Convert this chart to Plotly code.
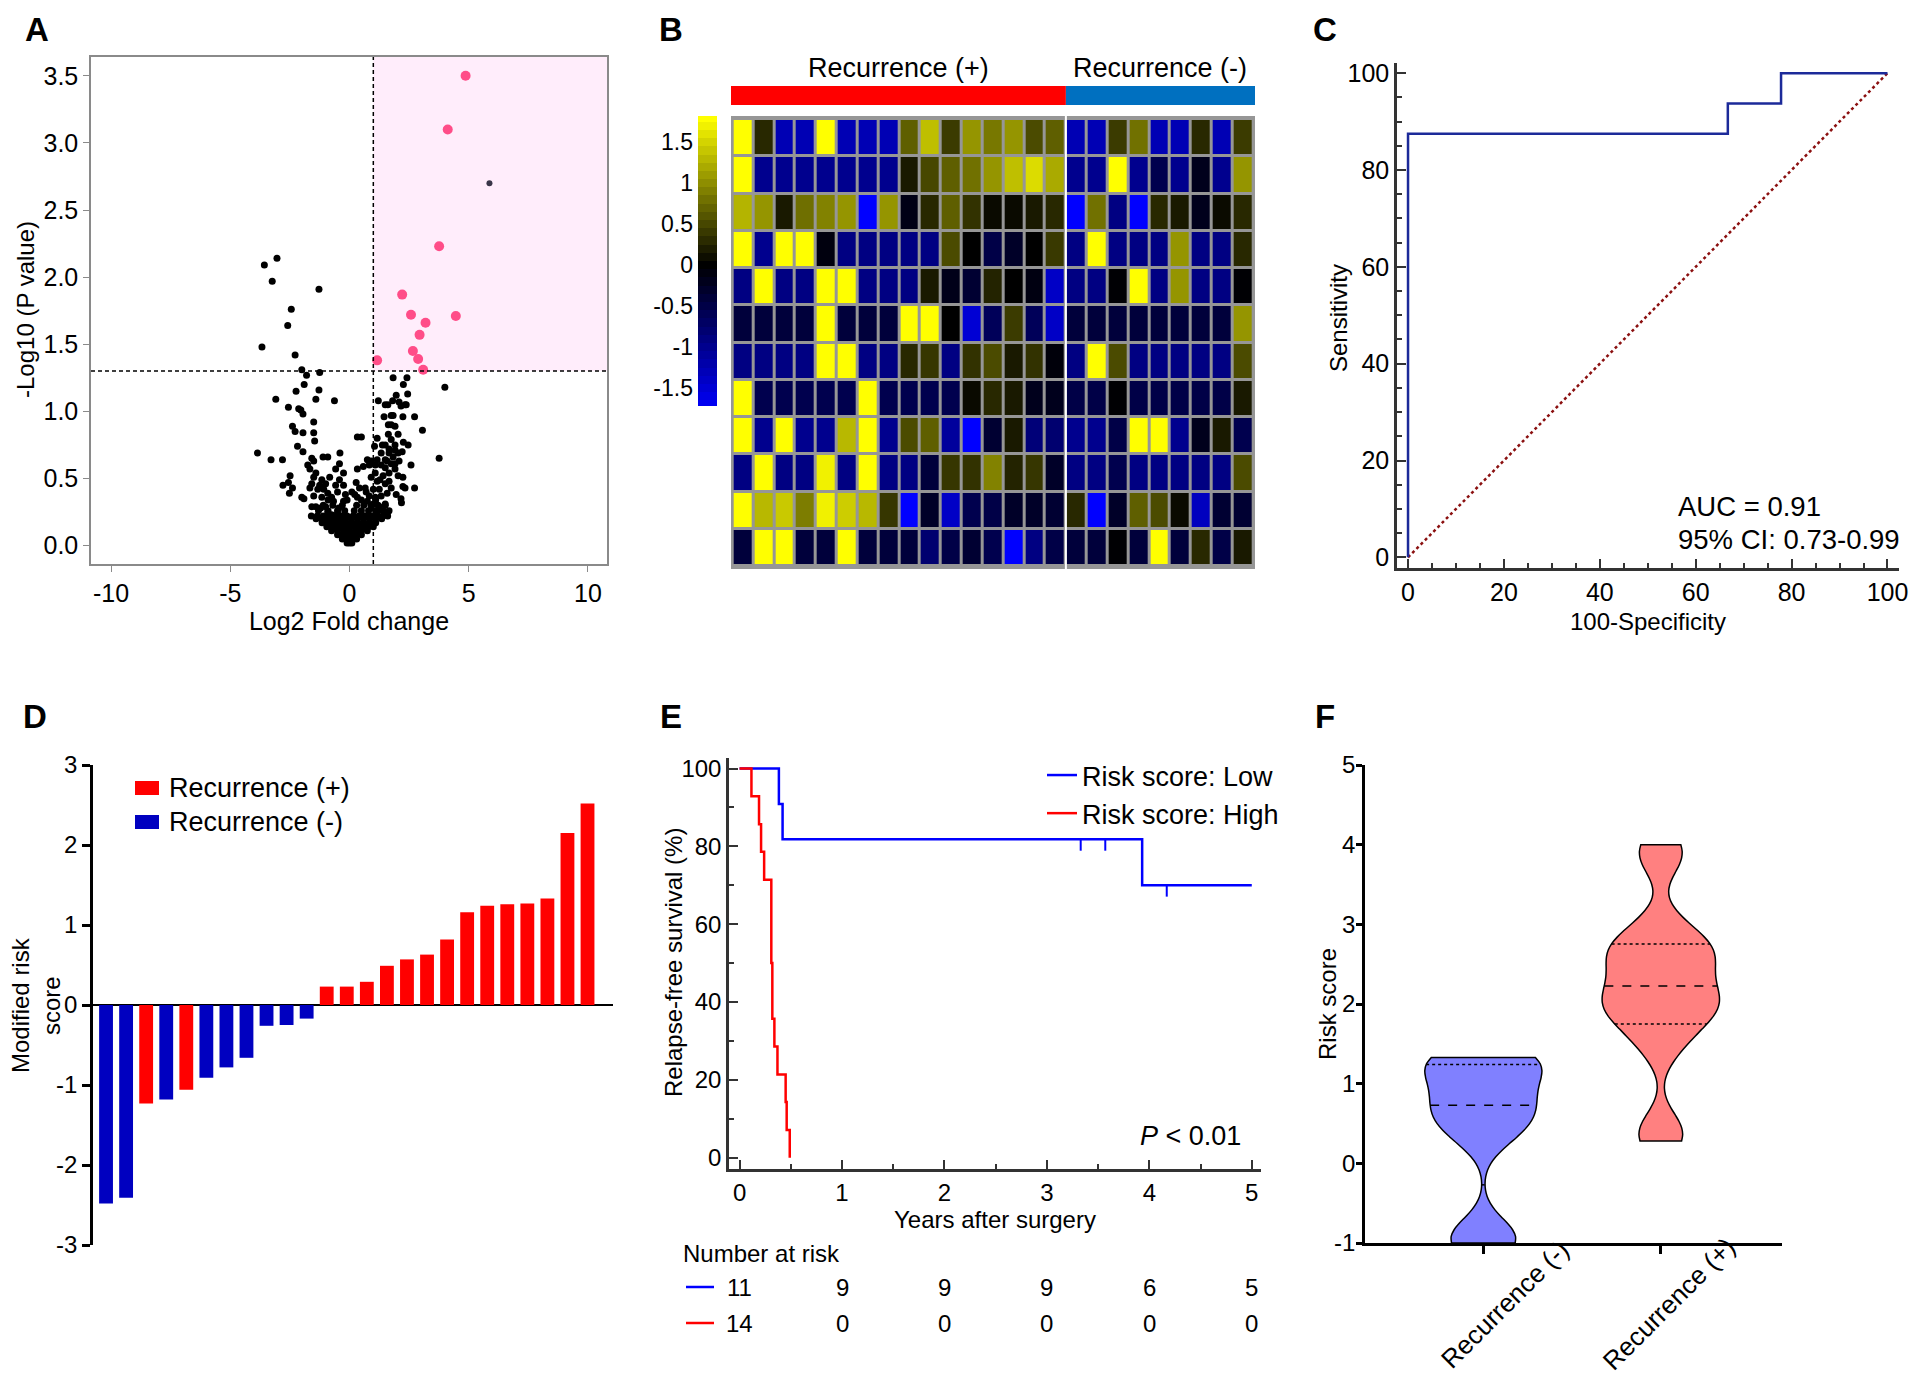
import numpy as np
import plotly.graph_objects as go

# The page body keeps its default 8px margin, so every position below is given in window pixels
# and converted to the figure's paper fractions.
PAGE_W, PAGE_H, BODY = 1920, 1388, 8
W, H = PAGE_W - BODY, PAGE_H - 2 * BODY
FONT = "Liberation Sans, Arial, Helvetica, sans-serif"


def fx(p):
    return (p - BODY) / W


def fy(p):
    return 1 - (p - BODY) / H


def dom_x(a, b):
    return [fx(a), fx(b)]


def dom_y(top, bottom):
    return [fy(bottom), fy(top)]


# ---------------------------------------------------------------- data A
volcano_pairs = [
    (-3.04, 2.14), (-3.57, 2.09), (-3.24, 1.97), (-1.28, 1.91), (-2.44, 1.76), (-2.59, 1.64),
    (-3.67, 1.48), (-2.28, 1.42), (-2.00, 1.31), (-1.25, 1.29), (-1.80, 1.27), (-1.90, 1.20),
    (-2.24, 1.15), (-1.28, 1.16), (-3.09, 1.09), (-1.41, 1.09), (-0.63, 1.08), (-2.56, 1.03),
    (-2.13, 1.02), (-2.04, 1.01), (-1.95, 0.98), (-1.50, 0.92), (-2.39, 0.89), (-2.28, 0.85),
    (-1.95, 0.84), (-1.50, 0.84), (-1.46, 0.78), (0.33, 0.81), (0.50, 0.81), (-2.18, 0.74),
    (-1.95, 0.70), (-3.86, 0.69), (-3.29, 0.64), (-2.81, 0.64), (-2.49, 0.52), (-2.56, 0.47),
    (-2.79, 0.45), (-2.39, 0.43), (-2.52, 0.39), (-2.00, 0.36), (-1.91, 0.35), (-0.40, 0.69),
    (-0.91, 0.66), (-1.11, 0.66), (-1.58, 0.65), (-1.50, 0.63), (-0.42, 0.61),
    (4.00, 1.18), (1.83, 1.25), (2.41, 1.25), (2.26, 1.20), (2.44, 1.13), (1.96, 1.12),
    (1.21, 1.08), (1.50, 1.05), (1.61, 1.05), (1.81, 1.08), (2.08, 1.07), (2.16, 1.04),
    (2.33, 1.05), (2.38, 1.05), (2.73, 0.96), (2.24, 0.96), (1.45, 0.96), (1.75, 0.97),
    (1.83, 0.97), (3.06, 0.86), (1.63, 0.90), (1.75, 0.90), (1.91, 0.89), (2.04, 0.83),
    (1.63, 0.83), (1.16, 0.80), (1.75, 0.79), (2.26, 0.77), (2.46, 0.75), (1.38, 0.75),
    (1.50, 0.75), (1.05, 0.74), (1.91, 0.75), (2.21, 0.70), (2.04, 0.69), (1.33, 0.69),
    (1.66, 0.69), (1.83, 0.66), (2.08, 0.63), (3.76, 0.65), (0.75, 0.64), (0.83, 0.60),
    (0.91, 0.63), (2.58, 0.60), (0.58, 0.59), (0.33, 0.57), (1.91, 0.57), (1.66, 0.54),
    (2.04, 0.52), (2.24, 0.51), (2.73, 0.43), (2.24, 0.44), (2.33, 0.43), (1.96, 0.38),
    (2.16, 0.35), (2.18, 0.32), (0.28, 0.47), (0.42, 0.43), (0.66, 0.43), (0.22, 0.38),
    (0.33, 0.36), (1.66, 0.26), (1.58, 0.24),
    (-1.75, 0.60), (-1.66, 0.57), (-1.41, 0.54), (-1.50, 0.51), (-1.58, 0.46), (-1.25, 0.45),
    (-1.08, 0.42), (-0.91, 0.39), (-1.16, 0.36), (-0.75, 0.36), (-0.58, 0.45), (-0.67, 0.33),
    (-1.00, 0.29), (-1.41, 0.29), (-1.58, 0.29), (-0.83, 0.51), (-0.58, 0.57), (-0.25, 0.54),
    (-0.42, 0.49), (-0.25, 0.45), (-0.50, 0.40), (-0.17, 0.38), (-0.25, 0.33), (-0.45, 0.28),
    (-1.16, 0.49), (-1.00, 0.46), (-1.33, 0.42), (-1.66, 0.43), (-1.50, 0.37), (-1.21, 0.28),
    (-0.91, 0.25), (-0.50, 0.24), (-0.75, 0.23), (-0.42, 0.20),
    (0.91, 0.51), (1.08, 0.54), (1.16, 0.48), (1.28, 0.49), (1.41, 0.52), (1.50, 0.46),
    (1.00, 0.42), (1.25, 0.42), (1.33, 0.37), (1.58, 0.39), (1.08, 0.36), (0.83, 0.37),
    (0.75, 0.33), (1.00, 0.31), (1.25, 0.29), (1.50, 0.31), (1.41, 0.26), (1.16, 0.25),
    (0.91, 0.28), (1.66, 0.48), (1.75, 0.43), (1.50, 0.58), (1.33, 0.60), (1.08, 0.60),
    (1.58, 0.63), (1.75, 0.61), (1.91, 0.61), (1.16, 0.64), (1.50, 0.64), (1.66, 0.72),
    (1.91, 0.71),
    (-0.10, 0.02), (0.00, 0.02), (0.10, 0.02),
    (-0.30, 0.05), (-0.15, 0.05), (0.00, 0.05), (0.15, 0.05), (0.30, 0.05),
    (-0.50, 0.08), (-0.30, 0.08), (-0.10, 0.08), (0.10, 0.08), (0.30, 0.08), (0.50, 0.08),
    (-0.75, 0.11), (-0.50, 0.11), (-0.25, 0.11), (0.00, 0.11), (0.25, 0.11), (0.50, 0.11), (0.75, 0.11),
    (-0.95, 0.14), (-0.70, 0.14), (-0.45, 0.14), (-0.20, 0.14), (0.05, 0.14), (0.30, 0.14),
    (0.55, 0.14), (0.80, 0.14), (1.00, 0.14),
    (-1.15, 0.17), (-0.90, 0.17), (-0.65, 0.17), (-0.40, 0.17), (-0.15, 0.17), (0.10, 0.17),
    (0.35, 0.17), (0.60, 0.17), (0.85, 0.17), (1.10, 0.17),
    (-1.40, 0.20), (-1.15, 0.20), (-0.90, 0.20), (-0.65, 0.20), (-0.40, 0.20), (-0.15, 0.20),
    (0.10, 0.20), (0.35, 0.20), (0.60, 0.20), (0.85, 0.20), (1.10, 0.20), (1.35, 0.20),
    (-1.60, 0.22), (-1.35, 0.22), (-1.10, 0.22), (-0.85, 0.22), (-0.60, 0.22), (-0.35, 0.22),
    (-0.10, 0.22), (0.15, 0.22), (0.40, 0.22), (0.65, 0.22), (0.90, 0.22), (1.15, 0.22),
    (1.40, 0.22), (1.60, 0.22),
    (-1.30, 0.26), (-0.90, 0.26), (-0.50, 0.26), (-0.20, 0.26), (0.20, 0.26), (0.50, 0.26),
    (0.80, 0.26), (1.10, 0.26), (1.40, 0.26),
    (-1.10, 0.30), (-0.70, 0.30), (-0.30, 0.30), (0.30, 0.30), (0.60, 0.30), (0.90, 0.30),
    (1.20, 0.30), (1.50, 0.30),
    (-0.90, 0.34), (-0.10, 0.34), (0.50, 0.34), (1.10, 0.34), (0.10, 0.40), (0.70, 0.40),
    # significant (up-regulated) genes
    (4.87, 3.50), (4.12, 3.10), (3.76, 2.23), (2.21, 1.87), (2.58, 1.72), (4.46, 1.71),
    (3.19, 1.66), (2.94, 1.57), (2.66, 1.45), (1.16, 1.38), (2.88, 1.39), (3.09, 1.31),
]
volcano_outlier_fc = [5.87]
volcano_outlier_logp = [2.70]
fc_cutoff = 1.0
p_cutoff = 1.3
a_xticks = [-10, -5, 0, 5, 10]

# ---------------------------------------------------------------- data B
heat_values = [
    [1.8, 0.28, -1.27, -1.27, 1.8, -1.27, -1.27, -1.27, 0.67, 1.35, 0.42, 1.05, 0.85, 1.05, 0.53, 0.67,
     -1.27, -1.27, 0.42, 0.80, -1.27, -1.27, 0.28, -1.27, 0.42],
    [1.8, -1.0, -1.0, -1.0, -1.0, -1.0, -1.0, -1.0, 0.18, 0.50, 0.67, 0.80, 1.05, 1.35, 1.55, 1.20,
     -1.0, -1.0, 1.8, -1.0, -0.55, -1.0, -0.20, -1.0, 1.05],
    [1.27, 1.05, 0.18, 0.78, 0.92, 1.05, -1.8, 1.05, -0.15, 0.28, 0.67, 0.35, 0.07, 0.07, 0.18, 0.28,
     -1.8, 0.80, -0.92, -1.8, 0.28, 0.18, -0.20, 0.08, 0.28],
    [1.8, -1.0, 1.8, 1.8, -0.10, -0.92, -0.92, -0.92, -0.92, -0.92, 0.53, 0.0, -0.50, -0.28, 0.0, 0.40,
     -0.92, 1.8, -0.92, -0.92, -0.92, 1.05, -0.92, -0.92, 0.28],
    [-0.92, 1.8, -0.92, -0.92, 1.8, 1.8, -0.92, -0.92, -0.92, 0.18, -0.18, -0.35, 0.25, 0.0, -0.12, -1.4,
     -0.92, -0.92, -0.03, 1.8, -0.92, 1.05, -0.92, -0.92, -0.03],
    [-0.42, -0.42, -0.42, -0.42, 1.8, -0.42, -0.42, -0.42, 1.8, 1.8, 0.0, -1.5, -0.63, 0.42, -0.63, -1.4,
     -0.42, -0.42, -0.42, -0.42, -0.42, -0.42, -0.42, -0.42, 1.05],
    [-0.92, -0.92, -0.92, -0.92, 1.8, 1.8, -0.92, -0.92, 0.28, 0.38, -0.92, 0.35, 0.53, 0.18, 0.35, -0.07,
     -0.92, 1.8, 0.53, -0.92, -0.92, -0.92, -0.92, -0.92, 0.53],
    [1.8, -0.55, -0.55, -0.55, -0.55, -0.55, 1.8, -0.55, -0.55, -0.55, -0.55, 0.07, 0.28, 0.18, -0.20, -0.20,
     -0.50, -0.50, -0.02, -0.50, -0.50, -0.50, -0.50, -0.50, 0.18],
    [1.8, -1.0, 1.8, -1.0, -1.0, 1.30, 1.8, -1.0, 0.53, 0.67, -1.1, -1.8, -0.35, 0.18, -0.85, -0.78,
     -1.0, -1.0, -0.50, 1.8, 1.8, -1.0, -0.20, 0.18, -0.55],
    [-0.92, 1.8, -0.92, -0.92, 1.70, -0.92, 1.8, -0.92, -0.92, -0.42, 0.38, 0.35, 0.92, 0.25, 0.38, -0.28,
     -0.92, -0.92, -0.55, -0.92, -0.92, -0.92, -0.92, -0.92, 0.53],
    [1.8, 1.30, 1.42, 0.88, 1.70, 1.45, 1.30, 0.38, -1.8, -0.28, -1.4, -0.55, -0.50, -0.28, -0.28, -0.35,
     0.28, -1.8, -0.28, 0.67, 0.53, 0.07, -1.35, -0.35, -0.35],
    [-0.42, 1.8, 1.8, -0.42, -0.42, 1.8, -0.42, -0.42, -0.42, -0.78, -0.50, -0.35, -0.55, -1.8, -0.92, -0.50,
     -0.42, -0.42, -0.02, -0.42, 1.8, -0.42, 0.28, -0.50, 0.18],
]
heat_groups = ["Recurrence (+)"] * 16 + ["Recurrence (-)"] * 9
colorbar_levels = [-1.7, -1.6, -1.5, -1.4, -1.3, -1.2, -1.1, -1.0, -0.9, -0.8, -0.7, -0.6, -0.5, -0.4,
                   -0.3, -0.2, -0.1, 0.0, 0.1, 0.2, 0.3, 0.4, 0.5, 0.6, 0.7, 0.8, 0.9, 1.0, 1.1, 1.2,
                   1.3, 1.4, 1.5, 1.6, 1.7, 1.8]
colorbar_ticks = [-1.5, -1, -0.5, 0, 0.5, 1, 1.5]

# ---------------------------------------------------------------- data C
roc_fpr = [0, 0, 66.7, 77.8, 100]
roc_tpr = [0, 87.5, 93.75, 100, 100]
auc_text = "AUC = 0.91"
ci_text = "95% CI: 0.73-0.99"

# ---------------------------------------------------------------- data D
d_scores = [-2.48, -2.41, -1.23, -1.18, -1.06, -0.91, -0.78, -0.66, -0.26, -0.25, -0.17,
            0.23, 0.23, 0.29, 0.49, 0.57, 0.63, 0.82, 1.16, 1.24, 1.26, 1.27, 1.33, 2.15, 2.52]
d_groups = ["-", "-", "+", "-", "+", "-", "-", "-", "-", "-", "-",
            "+", "+", "+", "+", "+", "+", "+", "+", "+", "+", "+", "+", "+", "+"]
d_yticks = [-3, -2, -1, 0, 1, 2, 3]

# ---------------------------------------------------------------- data E
km_low_t = [0, 0.384, 0.42, 3.93, 5.0]
km_low_s = [100, 90.9, 81.8, 70.0, 70.0]
km_low_censor = [3.33, 3.57, 4.17]
km_high_t = [0, 0.116, 0.19, 0.21, 0.24, 0.31, 0.32, 0.34, 0.37, 0.45, 0.46, 0.49]
km_high_s = [100, 92.9, 85.7, 78.6, 71.4, 50.0, 35.7, 28.6, 21.4, 14.3, 7.1, 0.0]
risk_years = [0, 1, 2, 3, 4, 5]
risk_low = [11, 9, 9, 9, 6, 5]
risk_high = [14, 0, 0, 0, 0, 0]

# ---------------------------------------------------------------- data F
f_neg = [-1.0, -0.9, 0.36, 0.55, 0.73, 0.90, 1.20, 1.28, 1.33]
f_pos = [0.28, 0.45, 1.45, 1.70, 1.90, 1.95, 2.00, 2.20, 2.25, 2.50, 2.60, 2.70, 2.77, 3.00, 3.80, 4.00]
f_cats = ["Recurrence (-)", "Recurrence (+)"]
f_yticks = [-1, 0, 1, 2, 3, 4, 5]


def hyphen_labels(vals):
    return [("%g" % v).replace("\u2212", "-") for v in vals]


fig = go.Figure()
annotations = []
shapes = []


def ytitle(text, x, y, size=24):
    annotations.append(dict(text=text, xref="paper", yref="paper", x=fx(x), y=fy(y), textangle=-90,
                            showarrow=False, font=dict(size=size), xanchor="center", yanchor="middle"))


# ================================================================ A volcano
vx = [p[0] for p in volcano_pairs]
vy = [p[1] for p in volcano_pairs]
sig_mask = [(a > fc_cutoff and b > p_cutoff) for a, b in zip(vx, vy)]
fig.add_trace(go.Scatter(x=[a for a, s in zip(vx, sig_mask) if not s], y=[b for b, s in zip(vy, sig_mask) if not s],
                         mode="markers", marker=dict(color="black", size=7), xaxis="x", yaxis="y", showlegend=False))
fig.add_trace(go.Scatter(x=[a for a, s in zip(vx, sig_mask) if s], y=[b for b, s in zip(vy, sig_mask) if s],
                         mode="markers", marker=dict(color="#ff4d88", size=10), xaxis="x", yaxis="y", showlegend=False))
fig.add_trace(go.Scatter(x=volcano_outlier_fc, y=volcano_outlier_logp, mode="markers",
                         marker=dict(color="#3a3548", size=6), xaxis="x", yaxis="y", showlegend=False))
A_XR = [-10.84, 10.8]
A_YR = [-0.137, 3.64]
shapes.append(dict(type="rect", xref="x", yref="y", x0=fc_cutoff, x1=A_XR[1], y0=p_cutoff, y1=A_YR[1],
                   fillcolor="#ffedfb", line=dict(width=0), layer="below"))
shapes.append(dict(type="line", xref="x", yref="y domain", x0=fc_cutoff, x1=fc_cutoff, y0=0, y1=1,
                   line=dict(color="black", width=1.5, dash="4px,3px")))
shapes.append(dict(type="line", xref="x domain", yref="y", x0=0, x1=1, y0=p_cutoff, y1=p_cutoff,
                   line=dict(color="black", width=1.5, dash="4px,3px")))
ytitle("-Log10 (P value)", 25, 310, size=24)

# ================================================================ B heatmap
n_cols = len(heat_values[0])
n_rows = len(heat_values)
n_pos = heat_groups.count("Recurrence (+)")
fig.add_trace(go.Heatmap(z=heat_values, x=list(range(n_cols)), y=list(range(n_rows)), coloraxis="coloraxis",
                         xgap=3, ygap=3, xaxis="x2", yaxis="y2", hoverinfo="skip"))
shapes.append(dict(type="rect", xref="x2 domain", yref="y2 domain", x0=0, x1=1, y0=0, y1=1,
                   fillcolor="#969696", line=dict(width=0), layer="below"))
shapes.append(dict(type="line", xref="x2", yref="y2 domain", x0=n_pos - 0.5, x1=n_pos - 0.5, y0=0, y1=1,
                   line=dict(color="white", width=2)))
B_XR = [-0.58, n_cols - 1 + 0.58]
shapes.append(dict(type="rect", xref="x2", yref="paper", x0=B_XR[0], x1=n_pos - 0.5, y0=fy(105), y1=fy(86),
                   fillcolor="#ff0000", line=dict(width=0)))
shapes.append(dict(type="rect", xref="x2", yref="paper", x0=n_pos - 0.5, x1=B_XR[1], y0=fy(105), y1=fy(86),
                   fillcolor="#0070c0", line=dict(width=0)))
annotations.append(dict(text="Recurrence (+)", xref="x2", yref="paper", x=(B_XR[0] + n_pos - 0.5) / 2, y=fy(68),
                        showarrow=False, font=dict(size=27), xanchor="center", yanchor="middle"))
annotations.append(dict(text="Recurrence (-)", xref="x2", yref="paper", x=(n_pos - 0.5 + B_XR[1]) / 2, y=fy(68),
                        showarrow=False, font=dict(size=27), xanchor="center", yanchor="middle"))
fig.add_trace(go.Heatmap(z=[[v] for v in colorbar_levels], x=[0], y=colorbar_levels, coloraxis="coloraxis",
                         xaxis="x3", yaxis="y3", hoverinfo="skip"))

# ================================================================ C ROC
fig.add_trace(go.Scatter(x=[0, 100], y=[0, 100], mode="lines", line=dict(color="#8b1010", width=2.5, dash="dot"),
                         xaxis="x4", yaxis="y4", showlegend=False))
fig.add_trace(go.Scatter(x=roc_fpr, y=roc_tpr, mode="lines", line=dict(color="#1c2a99", width=2.5, shape="hv"),
                         xaxis="x4", yaxis="y4", showlegend=False))
annotations.append(dict(text=auc_text, xref="paper", yref="paper", x=fx(1676), y=fy(506), showarrow=False,
                        font=dict(size=27.5), xanchor="left", yanchor="middle"))
annotations.append(dict(text=ci_text, xref="paper", yref="paper", x=fx(1676), y=fy(539), showarrow=False,
                        font=dict(size=27.5), xanchor="left", yanchor="middle"))
ytitle("Sensitivity", 1339, 318)

# ================================================================ D waterfall
for grp, name, color in [("+", "Recurrence (+)", "#ff0000"), ("-", "Recurrence (-)", "#0000c0")]:
    idx = [i for i, g in enumerate(d_groups) if g == grp]
    fig.add_trace(go.Bar(x=idx, y=[d_scores[i] for i in idx], name=name, marker=dict(color=color, line=dict(width=0)),
                         width=0.69, xaxis="x5", yaxis="y5", showlegend=False))
for (name, color), yc in zip([("Recurrence (+)", "#ff0000"), ("Recurrence (-)", "#0000c0")], [788, 822]):
    shapes.append(dict(type="rect", xref="paper", yref="paper", x0=fx(135), x1=fx(159), y0=fy(yc + 7), y1=fy(yc - 7),
                       fillcolor=color, line=dict(width=0)))
    annotations.append(dict(text=name, xref="paper", yref="paper", x=fx(167), y=fy(yc), showarrow=False,
                            font=dict(size=27), xanchor="left", yanchor="middle"))
ytitle("Modified risk<br>score", 36, 1005)

# ================================================================ E Kaplan-Meier
fig.add_trace(go.Scatter(x=km_low_t, y=km_low_s, mode="lines", line=dict(color="#0000ff", width=2.5, shape="hv"),
                         name="Risk score: Low", xaxis="x6", yaxis="y6", legend="legend2"))
fig.add_trace(go.Scatter(x=km_high_t, y=km_high_s, mode="lines", line=dict(color="#ff0000", width=2.5, shape="hv"),
                         name="Risk score: High", xaxis="x6", yaxis="y6", legend="legend2"))


def surv_at(ts, ss, t):
    val = ss[0]
    for a, b in zip(ts, ss):
        if a <= t:
            val = b
    return val


fig.add_trace(go.Scatter(x=km_low_censor, y=[surv_at(km_low_t, km_low_s, t) - 1.3 for t in km_low_censor],
                         mode="markers", marker=dict(symbol="line-ns", size=9, line=dict(color="#0000ff", width=2)),
                         xaxis="x6", yaxis="y6", showlegend=False))
annotations.append(dict(text="<i>P</i> < 0.01", xref="paper", yref="paper", x=fx(1243), y=fy(1136),
                        showarrow=False, font=dict(size=27), xanchor="right", yanchor="middle"))
annotations.append(dict(text="Number at risk", xref="paper", yref="paper", x=fx(681), y=fy(1253),
                        showarrow=False, font=dict(size=24), xanchor="left", yanchor="middle"))
for yy, vals, col in [(1287, risk_low, "#0000ff"), (1323, risk_high, "#ff0000")]:
    shapes.append(dict(type="line", xref="paper", yref="paper", x0=fx(686), x1=fx(714), y0=fy(yy), y1=fy(yy),
                       line=dict(color=col, width=2.5)))
    for yr, n in zip(risk_years, vals):
        annotations.append(dict(text=str(n), xref="x6", yref="paper", x=yr, y=fy(yy), showarrow=False,
                                font=dict(size=24), xanchor="center", yanchor="middle"))
ytitle("Relapse-free survival (%)", 674, 963)

# ================================================================ F violins
BW = 0.25
VW = 0.66
for vals, cat, col in [(f_neg, f_cats[0], "#8080ff"), (f_pos, f_cats[1], "#ff8080")]:
    fig.add_trace(go.Violin(x=[cat] * len(vals), y=vals, name=cat, fillcolor=col, line=dict(color="black", width=1.5),
                            points=False, spanmode="hard", bandwidth=BW, width=VW, scalemode="width",
                            box_visible=False, meanline_visible=False, opacity=1, xaxis="x7", yaxis="y7",
                            showlegend=False, hoverinfo="skip"))
    arr = np.asarray(vals)
    grid = np.linspace(arr.min(), arr.max(), 400)

    def dens(yv):
        return np.exp(-0.5 * ((np.atleast_1d(yv)[:, None] - arr[None, :]) / BW) ** 2).sum(axis=1)

    dmax = dens(grid).max()
    q1, med, q3 = np.percentile(arr, [25, 50, 75], method="weibull")
    ci = f_cats.index(cat)
    for q, dsh in [(q1, "dot"), (med, "dash"), (q3, "dot")]:
        hw = VW / 2 * dens(q)[0] / dmax
        shapes.append(dict(type="line", xref="x7", yref="y7", x0=ci - hw, x1=ci + hw, y0=q, y1=q,
                           line=dict(color="black", width=1.5, dash=dsh)))
    annotations.append(dict(text=cat, xref="x7", yref="paper", x=ci, xshift=22 if ci == 0 else 8, y=fy(1304),
                            textangle=-45, showarrow=False, font=dict(size=26), xanchor="center", yanchor="middle"))
ytitle("Risk score", 1327, 1004)

# ================================================================ panel letters
for letter, x, y in [("A", 37, 30), ("B", 671, 30), ("C", 1325, 30), ("D", 35, 716), ("E", 671, 716), ("F", 1325, 716)]:
    annotations.append(dict(text="<b>%s</b>" % letter, xref="paper", yref="paper", x=fx(x), y=fy(y), showarrow=False,
                            font=dict(size=33), xanchor="center", yanchor="middle", borderpad=0))

# ================================================================ layout
TF = dict(size=24, color="black")
TT = dict(size=24, color="black")
dark = "#333333"

layout_axes = dict(
    xaxis=dict(domain=dom_x(91, 607), range=A_XR, anchor="y", showline=True, mirror=True, linecolor="#8a8a8a",
               linewidth=1.5, ticks="outside", ticklen=6, tickcolor="#8a8a8a", tickvals=a_xticks,
               ticktext=hyphen_labels(a_xticks), showgrid=False, zeroline=False, tickfont=dict(size=25),
               title=dict(text="Log2 Fold change", font=dict(size=25), standoff=6)),
    yaxis=dict(domain=dom_y(57, 564), range=A_YR, anchor="x", showline=True, mirror=True, linecolor="#8a8a8a",
               linewidth=1.5, ticks="outside", ticklen=6, tickcolor="#8a8a8a", dtick=0.5, tick0=0, tickformat=".1f",
               showgrid=False, zeroline=False, tickfont=dict(size=25)),
    xaxis2=dict(domain=dom_x(731, 1255), range=B_XR, anchor="y2", visible=False),
    yaxis2=dict(domain=dom_y(116, 569), range=[n_rows - 1 + 0.58, -0.58], anchor="x2", visible=False),
    xaxis3=dict(domain=dom_x(698, 717), range=[-0.5, 0.5], anchor="y3", visible=False),
    yaxis3=dict(domain=dom_y(116, 406), range=[-1.72, 1.82], anchor="x3", side="left", showline=False,
                showgrid=False, zeroline=False, ticks="", tickvals=colorbar_ticks,
                ticktext=hyphen_labels(colorbar_ticks), tickfont=dict(size=23), ticklabelstandoff=4),
    xaxis4=dict(domain=dom_x(1397, 1899), range=[-2.3, 102.4], anchor="y4", showline=True, linecolor=dark,
                linewidth=2.5, ticks="inside", ticklen=9, tickwidth=2, tickcolor=dark, dtick=20, tick0=0,
                minor=dict(dtick=5, ticks="inside", ticklen=5, tickwidth=2, tickcolor=dark),
                showgrid=False, zeroline=False, tickfont=dict(size=25), ticklabeloverflow="allow",
                title=dict(text="100-Specificity", font=TT, standoff=9)),
    yaxis4=dict(domain=dom_y(63, 568), range=[-2.2, 102.1], anchor="x4", showline=True, linecolor=dark,
                linewidth=2.5, ticks="inside", ticklen=9, tickwidth=2, tickcolor=dark, dtick=20, tick0=0,
                minor=dict(dtick=5, ticks="inside", ticklen=5, tickwidth=2, tickcolor=dark),
                showgrid=False, zeroline=False, tickfont=dict(size=25)),
    xaxis5=dict(domain=dom_x(93, 613), range=[-0.65, 25.27], anchor="y5", visible=False),
    yaxis5=dict(domain=dom_y(765, 1245), range=[-3, 3], anchor="x5", showline=True, linecolor="black",
                linewidth=2.5, ticks="outside", ticklen=8, tickwidth=2.5, tickcolor="black",
                tickvals=d_yticks, ticktext=hyphen_labels(d_yticks),
                showgrid=False, zeroline=True, zerolinecolor="black", zerolinewidth=2, tickfont=TF),
    xaxis6=dict(domain=dom_x(729, 1261), range=[-0.103, 5.09], anchor="y6", showline=True, linecolor=dark,
                linewidth=2.5, ticks="inside", ticklen=9, tickwidth=2, tickcolor=dark, dtick=1, tick0=0,
                minor=dict(dtick=0.5, ticks="inside", ticklen=5, tickwidth=2, tickcolor=dark),
                showgrid=False, zeroline=False, tickfont=TF,
                title=dict(text="Years after surgery", font=TT, standoff=5)),
    yaxis6=dict(domain=dom_y(758, 1169), range=[-2.9, 102.7], anchor="x6", showline=True, linecolor=dark,
                linewidth=2.5, ticks="inside", ticklen=9, tickwidth=2, tickcolor=dark, dtick=20, tick0=0,
                minor=dict(dtick=10, ticks="inside", ticklen=5, tickwidth=2, tickcolor=dark),
                showgrid=False, zeroline=False, tickfont=TF),
    xaxis7=dict(domain=dom_x(1365, 1782), type="category", categoryorder="array", categoryarray=f_cats,
                range=[-0.667, 1.683], anchor="y7", showline=True, linecolor="black", linewidth=2.5,
                ticks="outside", ticklen=8, tickwidth=2.5, tickcolor="black", showticklabels=False,
                showgrid=False),
    yaxis7=dict(domain=dom_y(765, 1243), range=[-1, 5], anchor="x7", showline=True, linecolor="black",
                linewidth=2.5, ticks="outside", ticklen=6, tickwidth=2.5, tickcolor="black",
                tickvals=f_yticks, ticktext=hyphen_labels(f_yticks), ticklabelstandoff=-4,
                showgrid=False, zeroline=False, tickfont=TF),
)

fig.update_layout(
    width=W, height=H, autosize=False,
    margin=dict(l=0, r=0, t=0, b=0, pad=0, autoexpand=False),
    paper_bgcolor="white", plot_bgcolor="rgba(0,0,0,0)",
    font=dict(family=FONT, color="black"),
    coloraxis=dict(colorscale=[[0, "#0000ff"], [0.5, "#000000"], [1, "#ffff00"]], cmin=-1.8, cmax=1.8,
                   showscale=False),
    barmode="overlay",
    violinmode="overlay",
    legend2=dict(x=fx(1042), y=fy(751), xanchor="left", yanchor="top", font=dict(size=27),
                 bgcolor="rgba(0,0,0,0)", borderwidth=0, tracegroupgap=0),
    shapes=shapes,
    annotations=annotations,
    **layout_axes,
)

fig.write_html("out.html")
